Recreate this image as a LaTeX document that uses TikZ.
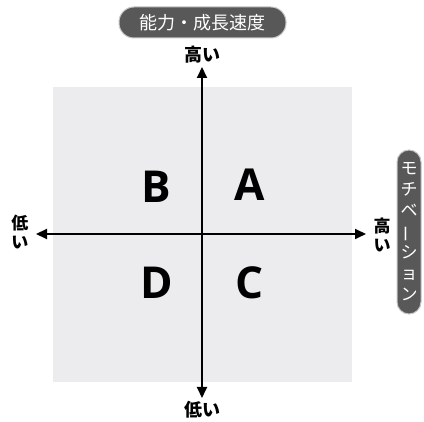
\documentclass[tikz,border=0pt]{standalone}
\usepackage{fontspec}
\usepackage{graphicx}
\setmainfont{Noto Sans CJK JP}
\newfontfamily\latinb{Open Sans}[BoldFont=* Bold]
\usetikzlibrary{arrows.meta}
\definecolor{sq}{RGB}{236,236,239}
\definecolor{pill}{RGB}{88,88,88}
\tikzset{
  axis/.style={line width=2pt, {Triangle[length=11pt,width=10pt]}-{Triangle[length=11pt,width=10pt]}},
  lbl/.style={font=\fontsize{18}{18}\selectfont\bfseries, inner sep=0pt, align=center},
  vlbl/.style={font=\fontsize{17}{19}\selectfont\bfseries, inner sep=0pt, align=center},
  quad/.style={font=\fontsize{44}{44}\selectfont\latinb\bfseries, inner sep=0pt},
  pillbox/.style={fill=pill, draw=gray!45, line width=1pt, text=white, inner sep=0pt}
}
\begin{document}
\begin{tikzpicture}[x=1pt,y=-1pt]
\useasboundingbox (0,0) rectangle (424,422);
\fill[white] (0,0) rectangle (424,422);
\node[fill=sq, minimum width=299pt, minimum height=295pt, inner sep=0pt] (sqr) at (202.5,234.5) {};
\node[pillbox, rounded corners=15pt, minimum width=167pt, minimum height=31pt,
      font=\fontsize{18}{18}\selectfont] (ptop) at (202.5,22.5) {能力・成長速度};
\node[pillbox, rounded corners=12pt, minimum width=24pt, minimum height=164pt,
      font=\fontsize{17}{21}\selectfont, align=center] (pright) at (409,232)
  {モ\\チ\\ベ\\\rotatebox[origin=c]{90}{ー}\\シ\\ョ\\ン};
\node[lbl] (hiT) at (202,55) {高い};
\node[lbl] (loB) at (202,410) {低い};
\node[vlbl] (loL) at (20,232) {低\\い};
\node[vlbl] (hiR) at (382,235) {高\\い};
\coordinate (tT) at (202,67);
\coordinate (tB) at (202,398);
\coordinate (tL) at (36,234);
\coordinate (tR) at (366,234);
\draw[axis] (tB) -- (tT);
\draw[axis] (tL) -- (tR);
\node[quad] (B) at (156,187) {B};
\node[quad] (A) at (250,185) {A};
\node[quad] (D) at (157,283) {D};
\node[quad] (C) at (250,283) {C};
\end{tikzpicture}
\end{document}
